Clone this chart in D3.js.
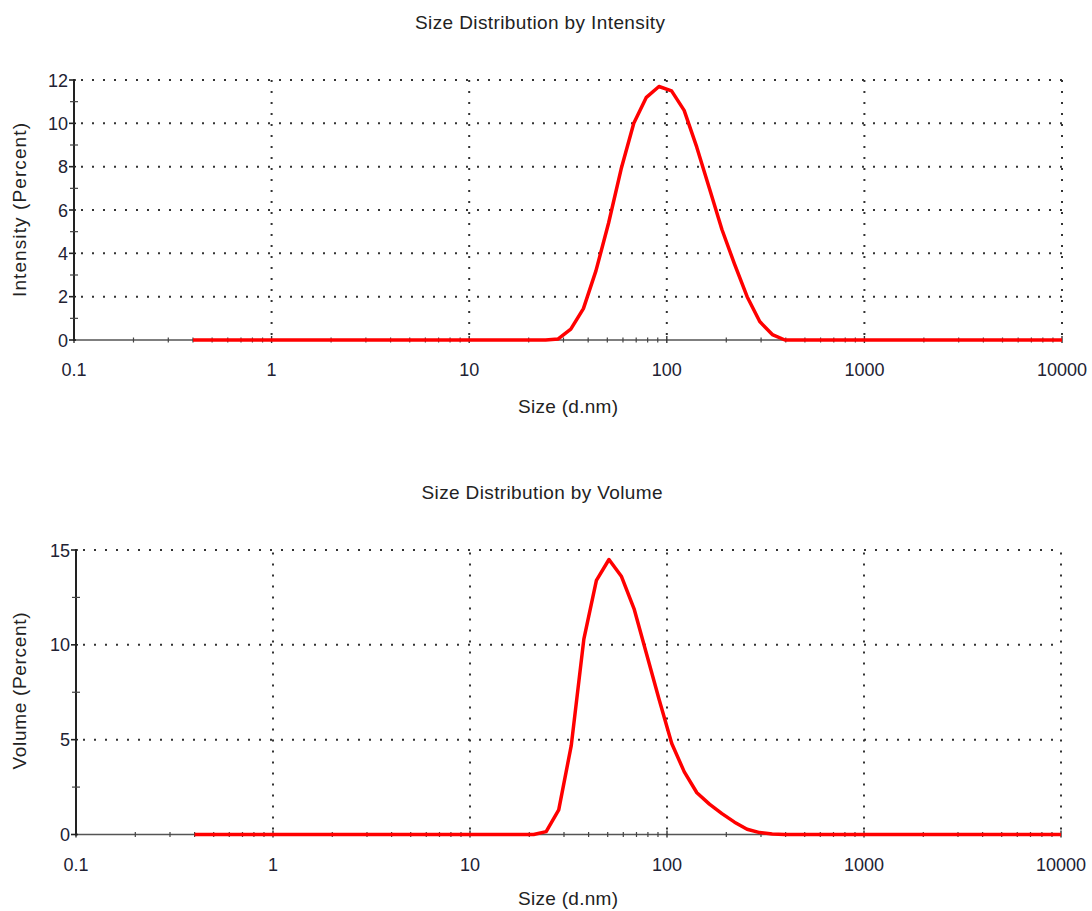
<!DOCTYPE html>
<html>
<head>
<meta charset="utf-8">
<script src="https://cdn.jsdelivr.net/npm/d3@7"></script>
<style>
  html, body { margin: 0; padding: 0; background: #fff; }
  svg { display: block; font-family: Arial, "Liberation Sans", sans-serif; }
</style>
</head>
<body>
<svg id="chart" width="1092" height="911"></svg>
<script>
// Size bins (d.nm)
const sizes = [0.4, 0.4632, 0.5365, 0.6213, 0.7195, 0.8332, 0.9649, 1.117, 1.294, 1.499,
  1.736, 2.01, 2.328, 2.696, 3.122, 3.615, 4.187, 4.849, 5.615, 6.503,
  7.531, 8.721, 10.1, 11.7, 13.54, 15.69, 18.17, 21.04, 24.36, 28.21,
  32.67, 37.84, 43.82, 50.75, 58.77, 68.06, 78.82, 91.28, 105.7, 122.4,
  141.8, 164.2, 190.1, 220.2, 255.0, 295.3, 342.0, 396.1, 458.7, 531.2,
  615.1, 712.4, 825.0, 955.4, 1106, 1281, 1484, 1718, 1990, 2305,
  2669, 3091, 3580, 4145, 4801, 5560, 6439, 7456, 8635, 10000];

// Intensity (Percent)
const intensity = [0,0,0,0,0,0,0,0,0,0,
  0,0,0,0,0,0,0,0,0,0,
  0,0,0,0,0,0,0,0,0,0.05,
  0.5,1.45,3.2,5.4,7.9,10.0,11.2,11.7,11.5,10.6,
  8.9,7.0,5.1,3.5,2.0,0.85,0.25,0,0,0,
  0,0,0,0,0,0,0,0,0,0,
  0,0,0,0,0,0,0,0,0,0];

// Volume (Percent)
const volume = [0,0,0,0,0,0,0,0,0,0,
  0,0,0,0,0,0,0,0,0,0,
  0,0,0,0,0,0,0,0,0.15,1.3,
  4.7,10.3,13.4,14.5,13.6,11.9,9.5,7.1,4.8,3.3,
  2.2,1.6,1.1,0.65,0.28,0.1,0.03,0,0,0,
  0,0,0,0,0,0,0,0,0,0,
  0,0,0,0,0,0,0,0,0,0];

const xTickValues = [0.1, 1, 10, 100, 1000, 10000];
const xTickLabels = ["0.1", "1", "10", "100", "1000", "10000"];
const intensityTicks = [0, 2, 4, 6, 8, 10, 12];
const intensityMinor = [1, 3, 5, 7, 9, 11];
const volumeTicks = [0, 5, 10, 15];
const volumeMinor = [2.5, 7.5, 12.5];

const svg = d3.select("#chart");

function panel(cfg) {
  const g = svg.append("g");
  const x = d3.scaleLog().domain([0.1, 10000]).range([cfg.x0, cfg.x1]);
  const y = d3.scaleLinear().domain([0, cfg.ymax]).range([cfg.yb, cfg.yt]);

  // minor x ticks (2..9 per decade)
  const minorX = [];
  for (let d = 0.1; d < 10000; d *= 10) {
    for (let k = 2; k <= 9; k++) minorX.push(+(d * k).toPrecision(3));
  }

  // horizontal dotted grid
  g.selectAll(".hg").data(cfg.ticks.filter(t => t > 0)).enter().append("line")
    .attr("x1", cfg.x0 + 2).attr("x2", cfg.x1)
    .attr("y1", d => y(d)).attr("y2", d => y(d))
    .attr("stroke", "#333").attr("stroke-width", 2)
    .attr("stroke-dasharray", "2,9").attr("stroke-dashoffset", -5);

  // vertical dotted grid
  g.selectAll(".vg").data(xTickValues.slice(1)).enter().append("line")
    .attr("x1", d => x(d)).attr("x2", d => x(d))
    .attr("y1", cfg.yb).attr("y2", cfg.yt)
    .attr("stroke", "#333").attr("stroke-width", 2)
    .attr("stroke-dasharray", "2,9").attr("stroke-dashoffset", -5);

  // x axis line
  g.append("line").attr("x1", cfg.x0).attr("x2", cfg.x1)
    .attr("y1", cfg.yb).attr("y2", cfg.yb)
    .attr("stroke", "#555").attr("stroke-width", 1.6);
  // x minor ticks
  g.selectAll(".xm").data(minorX).enter().append("line")
    .attr("x1", d => x(d)).attr("x2", d => x(d))
    .attr("y1", cfg.yb - 2.5).attr("y2", cfg.yb + 2.5)
    .attr("stroke", "#444").attr("stroke-width", 1.2);
  // x major ticks
  g.selectAll(".xM").data(xTickValues).enter().append("line")
    .attr("x1", d => x(d)).attr("x2", d => x(d))
    .attr("y1", cfg.yb - 4).attr("y2", cfg.yb + 3)
    .attr("stroke", "#333").attr("stroke-width", 1.4);
  // x tick labels
  g.selectAll(".xl").data(xTickValues).enter().append("text")
    .attr("x", d => x(d)).attr("y", cfg.yb + 36)
    .attr("text-anchor", "middle").attr("font-size", 18).attr("fill", "#222233")
    .text((d, i) => xTickLabels[i]);

  // y axis line
  g.append("line").attr("x1", cfg.x0).attr("x2", cfg.x0)
    .attr("y1", cfg.yb + 1).attr("y2", cfg.yt - 1)
    .attr("stroke", "#222").attr("stroke-width", 2);
  g.selectAll(".ym").data(cfg.minor).enter().append("line")
    .attr("x1", cfg.x0 - 4).attr("x2", cfg.x0 + 4)
    .attr("y1", d => y(d)).attr("y2", d => y(d))
    .attr("stroke", "#444").attr("stroke-width", 1.2);
  g.selectAll(".yM").data(cfg.ticks).enter().append("line")
    .attr("x1", cfg.x0 - 5).attr("x2", cfg.x0 + 2)
    .attr("y1", d => y(d)).attr("y2", d => y(d))
    .attr("stroke", "#222").attr("stroke-width", 1.6);
  g.selectAll(".yl").data(cfg.ticks).enter().append("text")
    .attr("x", cfg.x0 - 6).attr("y", d => y(d) + 6.5)
    .attr("text-anchor", "end").attr("font-size", 18).attr("fill", "#222233")
    .text(d => d);

  // data line
  const line = d3.line().x(d => x(d[0])).y(d => y(d[1])).curve(d3.curveLinear);
  g.append("path").datum(sizes.map((s, i) => [s, cfg.values[i]]))
    .attr("d", line).attr("fill", "none")
    .attr("stroke", "#ff0000").attr("stroke-width", 3.5)
    .attr("stroke-linejoin", "round");

  // titles
  g.append("text").attr("x", cfg.titleX).attr("y", cfg.titleY)
    .attr("text-anchor", "middle").attr("font-size", 19).attr("fill", "#222")
    .attr("textLength", cfg.titleLen).attr("lengthAdjust", "spacing")
    .text(cfg.title);
  g.append("text").attr("x", 568).attr("y", cfg.xlabY)
    .attr("text-anchor", "middle").attr("font-size", 19).attr("fill", "#222")
    .attr("textLength", 100).attr("lengthAdjust", "spacing")
    .text("Size (d.nm)");
  g.append("text")
    .attr("transform", `translate(26,${cfg.ylabC}) rotate(-90)`)
    .attr("text-anchor", "middle").attr("font-size", 19).attr("fill", "#222")
    .attr("textLength", cfg.ylabLen).attr("lengthAdjust", "spacing")
    .text(cfg.ylab);
}

panel({
  x0: 74, x1: 1062, yb: 340, yt: 80, ymax: 12,
  ticks: intensityTicks, minor: intensityMinor, values: intensity,
  title: "Size Distribution by Intensity", titleX: 540, titleY: 29, titleLen: 250,
  xlabY: 413, ylab: "Intensity (Percent)", ylabC: 210, ylabLen: 174
});

panel({
  x0: 76, x1: 1061, yb: 834.5, yt: 550, ymax: 15,
  ticks: volumeTicks, minor: volumeMinor, values: volume,
  title: "Size Distribution by Volume", titleX: 542, titleY: 499, titleLen: 241,
  xlabY: 905, ylab: "Volume (Percent)", ylabC: 691, ylabLen: 157
});
</script>
</body>
</html>
